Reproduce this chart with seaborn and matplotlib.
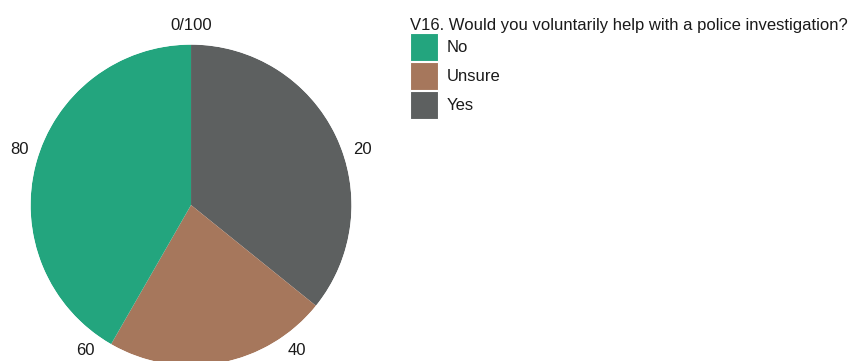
import matplotlib
matplotlib.use("Agg")
import matplotlib.pyplot as plt
from matplotlib.patches import Patch
import numpy as np
import seaborn as sns

# datos (porcentajes)
categorias = ["Yes", "Unsure", "No"]
valores = [35.8, 22.5, 41.7]
colores = {"No": "#23a57e", "Unsure": "#a6775c", "Yes": "#5d6060"}
orden_leyenda = ["No", "Unsure", "Yes"]
ticks = [0, 20, 40, 60, 80]
tick_labels = ["0/100", "20", "40", "60", "80"]
titulo = "V16. Would you voluntarily help with a police investigation?"

sns.set_theme(style="white")
plt.rcParams["font.family"] = ["Liberation Sans", "DejaVu Sans"]

fig = plt.figure(figsize=(8.53, 3.61), dpi=100)
ax = fig.add_axes([0.0358, -0.0125, 0.3763, 0.889], projection="polar")
ax.set_theta_zero_location("N")
ax.set_theta_direction(-1)

escala = 2 * np.pi / 100
inicio = np.concatenate([[0], np.cumsum(valores)[:-1]])
ax.bar(inicio * escala, 1, width=np.array(valores) * escala, bottom=0,
       align="edge", color=[colores[c] for c in categorias], linewidth=0)

ax.set_ylim(0, 1)
ax.set_yticks([])
ax.set_xticks(np.array(ticks) * escala)
ax.set_xticklabels(tick_labels, fontsize=12, color="#1a1a1a")
ax.tick_params(axis="x", pad=1)
ax.grid(False)
ax.spines["polar"].set_visible(False)

handles = [Patch(facecolor=colores[c], edgecolor="white", linewidth=0.8) for c in orden_leyenda]
leg = fig.legend(handles, orden_leyenda, loc="upper left", bbox_to_anchor=(0.4807, 0.951),
                 title=titulo, frameon=False, fontsize=12, title_fontsize=12,
                 handlelength=1.65, handleheight=2.25, labelspacing=0.02,
                 handletextpad=0.55, borderpad=0, borderaxespad=0, alignment="left")
for t in leg.get_texts():
    t.set_color("#1a1a1a")
leg.get_title().set_color("#1a1a1a")

fig.savefig("out.png", dpi=100)
